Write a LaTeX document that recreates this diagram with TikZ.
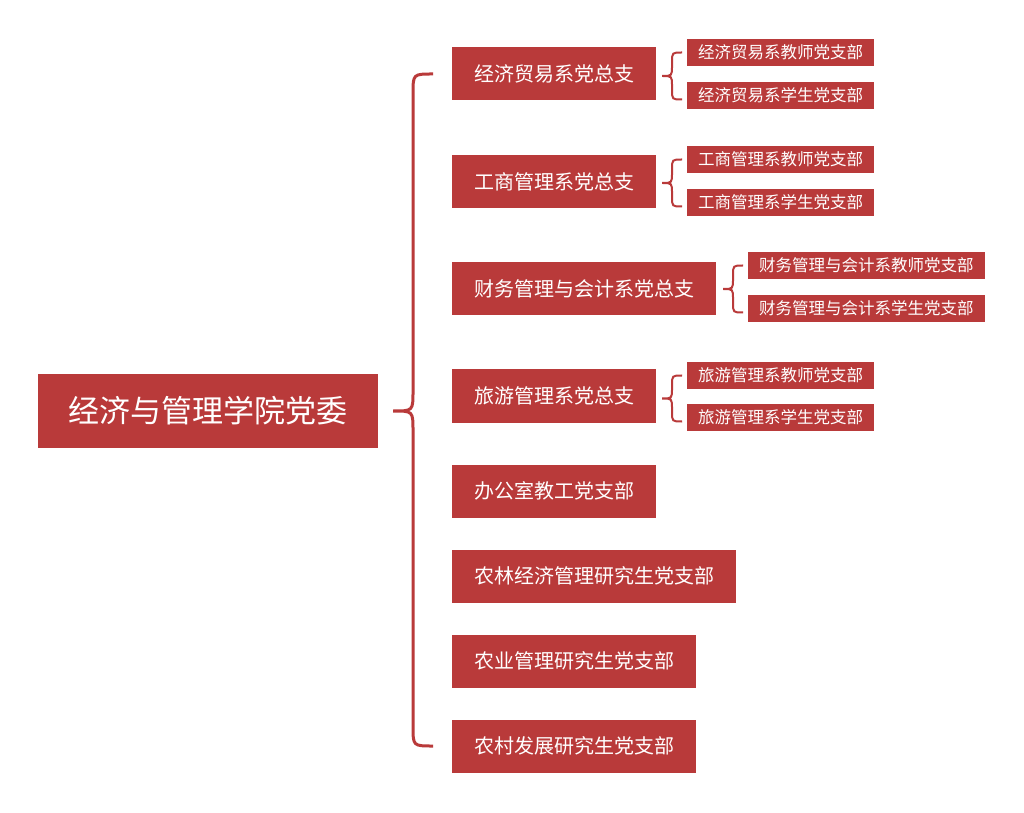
\documentclass[tikz,border=0pt]{standalone}
\usepackage{fontspec}
\setmainfont{Noto Sans CJK SC}
\usetikzlibrary{calc}
\definecolor{mainred}{RGB}{185,58,58}
\newcommand{\mybrace}[5]{%
\draw[#1] let \p1=(#2), \p2=(#3), \p3=(#4), \n1={\x2-#5pt} in
 (\p2) .. controls (\n1,\y2) .. (\n1,{\y2-#5pt}) -- (\n1,{\y1+#5pt})
 .. controls (\n1,\y1) .. (\x1,\y1) .. controls (\n1,\y1) .. (\n1,{\y1-#5pt})
 -- (\n1,{\y3+#5pt}) .. controls (\n1,\y3) .. (\p3);}
\tikzset{
 rootbox/.style={fill=mainred, text=white, minimum width=340pt, minimum height=74pt, font=\fontsize{31}{36}\selectfont, inner sep=0pt},
 lvbox/.style={fill=mainred, text=white, anchor=west, minimum height=53pt, inner xsep=22pt, inner ysep=0pt, font=\fontsize{20}{24}\selectfont},
 smbox/.style={fill=mainred, text=white, anchor=west, minimum height=27pt, inner xsep=11pt, inner ysep=0pt, font=\fontsize{16.5}{19}\selectfont},
 bigbrace/.style={draw=mainred, line width=3pt},
 smbrace/.style={draw=mainred, line width=2pt},
}
\begin{document}
\begin{tikzpicture}[x=1pt,y=1pt]
\useasboundingbox[fill=white] (0,0) rectangle (1024,812);
\node[rootbox] (root) at (208,401) {经济与管理学院党委};
\node[lvbox] (c1) at (452,738) {经济贸易系党总支};
\node[lvbox] (c2) at (452,630) {工商管理系党总支};
\node[lvbox] (c3) at (452,523) {财务管理与会计系党总支};
\node[lvbox] (c4) at (452,416) {旅游管理系党总支};
\node[lvbox] (c5) at (452,321) {办公室教工党支部};
\node[lvbox] (c6) at (452,236) {农林经济管理研究生党支部};
\node[lvbox] (c7) at (452,151) {农业管理研究生党支部};
\node[lvbox] (c8) at (452,66) {农村发展研究生党支部};
\node[smbox] (g1a) at (687,759.5) {经济贸易系教师党支部};
\node[smbox] (g1b) at (687,716.5) {经济贸易系学生党支部};
\node[smbox] (g2a) at (687,652.5) {工商管理系教师党支部};
\node[smbox] (g2b) at (687,609.5) {工商管理系学生党支部};
\node[smbox] (g3a) at (748,546.5) {财务管理与会计系教师党支部};
\node[smbox] (g3b) at (748,503.5) {财务管理与会计系学生党支部};
\node[smbox] (g4a) at (687,436.5) {旅游管理系教师党支部};
\node[smbox] (g4b) at (687,394.5) {旅游管理系学生党支部};
\mybrace{bigbrace}{[xshift=15pt]root.east}{[xshift=-19pt]c1.west}{[xshift=-19pt]c8.west}{20}
\foreach \g in {g1,g2,g3,g4}{
 \mybrace{smbrace}{$(\g a.west)!0.5!(\g b.west)+(-25,-2)$}{[xshift=-5pt]\g a.west}{[xshift=-5pt,yshift=-4pt]\g b.west}{10}
}
\end{tikzpicture}
\end{document}
